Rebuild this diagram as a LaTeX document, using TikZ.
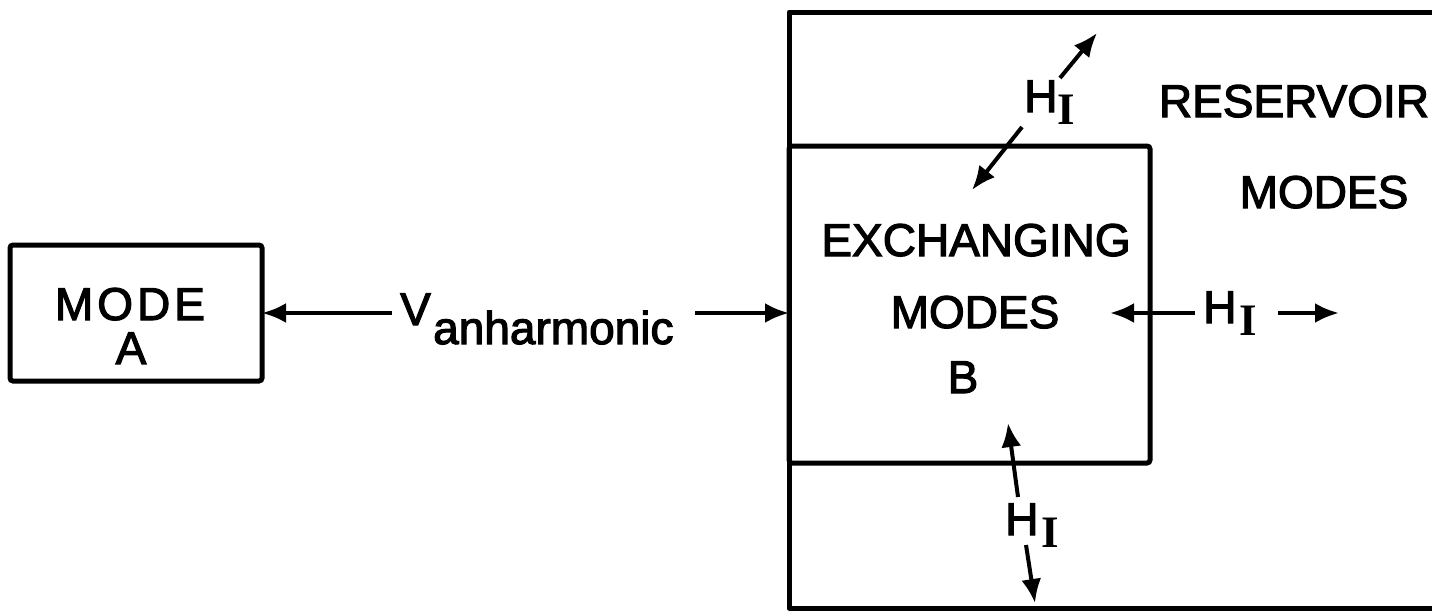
\documentclass[tikz,border=0pt]{standalone}
\usepackage{fontspec}
\setmainfont{Liberation Sans}
\newfontfamily\lettering{Liberation Sans}[FakeBold=2.5]
\newfontfamily\serifI{Liberation Serif Bold}
\usetikzlibrary{arrows.meta}
\newcommand{\myHI}[1]{H\hspace{#1}\raisebox{-12pt}{\serifI\fontsize{45}{45}\selectfont I}}
\begin{document}
\begin{tikzpicture}[x=1pt,y=-1pt,
  box/.style={draw, line width=5pt, rounded corners=3pt, inner sep=0pt, outer sep=0pt},
  lbl/.style={font=\lettering\fontsize{46}{50}\selectfont, inner sep=0pt, anchor=base},
  arr/.style={line width=4pt, -{Latex[length=24pt,width=20pt]}}]
\useasboundingbox (0,0) rectangle (1432,613);
% reservoir (open on the right)
\coordinate (resTR) at (1432,12);
\coordinate (resTL) at (789,12);
\coordinate (resBL) at (789,608);
\coordinate (resBR) at (1432,608);
\draw[line width=5pt, line join=round] (resTR) -- (resTL) -- (resBL) -- (resBR);
% boxes
\node[box, minimum width=252pt, minimum height=136pt] (modeA) at (136,313) {};
\node[box, minimum width=361pt, minimum height=317pt] (exch) at (969.5,304.5) {};
% texts
\node[lbl] (tMode) at (130,320) {M\hspace{4pt}O\hspace{4pt}D\hspace{4pt}E};
\node[lbl] (tA) at (131,364) {A};
\node[lbl, anchor=base west] (tV) at (400,325) {V};
\node[lbl, anchor=base west] (tSub) at (433,344) {anharmonic};
\node[lbl] (tEx) at (976,256) {EXCHANGING};
\node[lbl] (tModesB) at (975,328) {MODES};
\node[lbl] (tB) at (963,393) {B};
\node[lbl] (tRes) at (1294,117) {RESERVOIR};
\node[lbl] (tModesR) at (1324,208) {MODES};
\node[lbl, anchor=base west] (hTop) at (1024,112) {\myHI{0pt}};
\node[lbl, anchor=base west] (hRight) at (1203,323) {\myHI{3pt}};
\node[lbl, anchor=base west] (hBot) at (1005,535) {\myHI{3pt}};
% connectors
\coordinate (vL) at (392,313);
\coordinate (vR) at (695,313);
\draw[arr] (vL) -- (modeA.east);
\draw[arr] (vR) -- (vR -| exch.west);
\coordinate (t1s) at (1060,78);
\coordinate (t1e) at (1097,33);
\coordinate (t2s) at (1022,127);
\coordinate (t2e) at (972,190);
\draw[arr] (t1s) -- (t1e);
\draw[arr] (t2s) -- (t2e);
\coordinate (r1s) at (1195,313);
\coordinate (r1e) at (1110,313);
\coordinate (r2s) at (1278,313);
\coordinate (r2e) at (1339,313);
\draw[arr] (r1s) -- (r1e);
\draw[arr] (r2s) -- (r2e);
\coordinate (b1s) at (1018,497);
\coordinate (b1e) at (1008,423);
\coordinate (b2s) at (1026,545);
\coordinate (b2e) at (1035,603);
\draw[arr] (b1s) -- (b1e);
\draw[arr] (b2s) -- (b2e);
\end{tikzpicture}
\end{document}
